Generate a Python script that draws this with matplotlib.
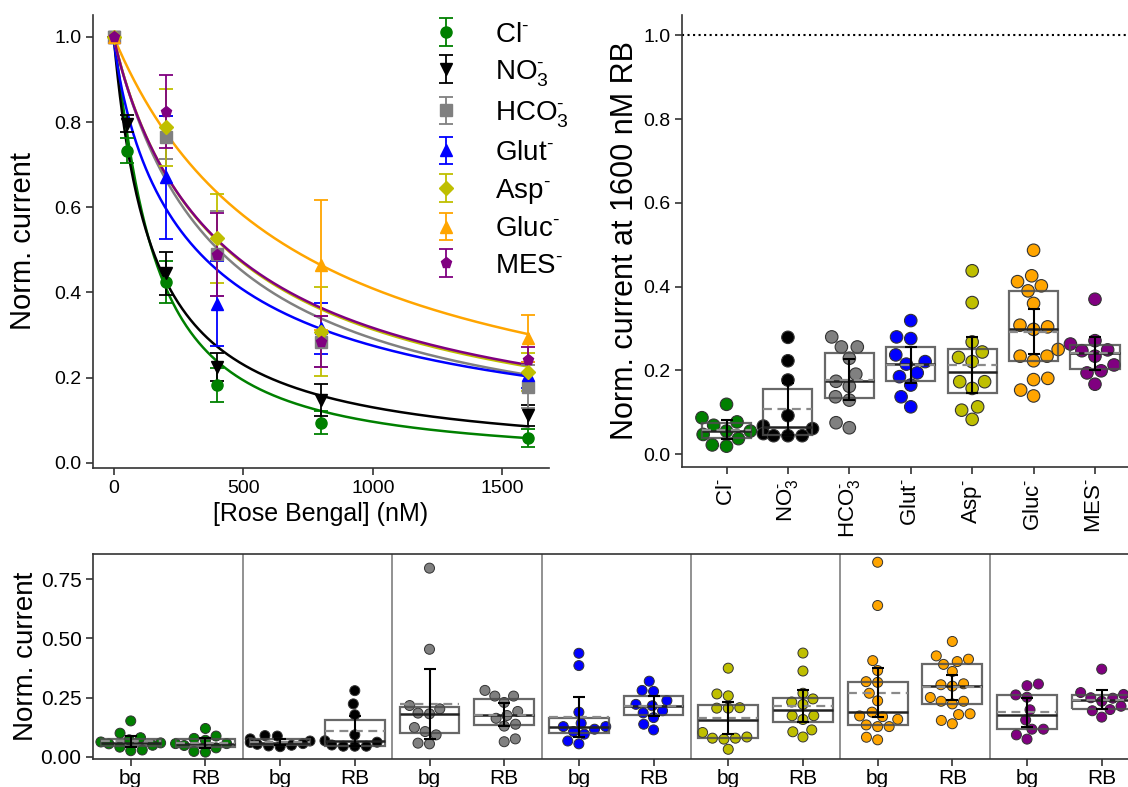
import numpy as np
import pandas as pd
import matplotlib
matplotlib.use('Agg')
import matplotlib.pyplot as plt
import seaborn as sns

plt.rcParams['font.family'] = ['Liberation Sans', 'DejaVu Sans']
plt.rcParams['mathtext.fontset'] = 'custom'
plt.rcParams['mathtext.rm'] = 'Liberation Sans'
plt.rcParams['mathtext.it'] = 'Liberation Sans:italic'
plt.rcParams['mathtext.bf'] = 'Liberation Sans:bold'

# ---------------- data ----------------
ions = ['Cl', 'NO3', 'HCO3', 'Glut', 'Asp', 'Gluc', 'MES']
ion_labels = [r'Cl$^{\text{-}}$', r'NO$_3^{\text{-}}$', r'HCO$_3^{\text{-}}$', r'Glut$^{\text{-}}$',
              r'Asp$^{\text{-}}$', r'Gluc$^{\text{-}}$', r'MES$^{\text{-}}$']
colors = ['green', 'black', 'grey', 'blue', '#bfbf00', 'orange', 'purple']
markers = ['o', 'v', 's', '^', 'D', '^', 'p']

# dose-response (mean +/- error)
conc_cl = [0, 50, 200, 400, 800, 1600]
mean_cl = [1.0, 0.733, 0.425, 0.183, 0.094, 0.058]
err_cl = [0, 0.03, 0.05, 0.039, 0.027, 0.021]
conc_no3 = [0, 50, 200, 400, 800, 1600]
mean_no3 = [1.0, 0.796, 0.445, 0.226, 0.148, 0.112]
err_no3 = [0, 0.02, 0.05, 0.033, 0.037, 0.025]
conc_hco3 = [0, 200, 400, 800, 1600]
mean_hco3 = [1.0, 0.764, 0.491, 0.284, 0.179]
err_hco3 = [0, 0.05, 0.1, 0.06, 0.05]
conc_glut = [0, 200, 400, 800, 1600]
mean_glut = [1.0, 0.67, 0.374, 0.316, 0.206]
err_glut = [0, 0.145, 0.1, 0.06, 0.03]
conc_asp = [0, 200, 400, 800, 1600]
mean_asp = [1.0, 0.788, 0.527, 0.308, 0.214]
err_asp = [0, 0.09, 0.105, 0.105, 0.045]
conc_gluc = [0, 800, 1600]
mean_gluc = [1.0, 0.464, 0.293]
err_gluc = [0, 0.152, 0.055]
conc_mes = [0, 200, 400, 800, 1600]
mean_mes = [1.0, 0.824, 0.489, 0.284, 0.241]
err_mes = [0, 0.086, 0.098, 0.06, 0.03]

# Hill fit parameters (IC50 in nM, Hill coefficient)
fit_ic50 = [148, 150, 405, 320, 438, 693, 442]
fit_hill = [1.17, 1.0, 0.98, 0.85, 0.95, 1.0, 0.94]

# normalised current at 1600 nM RB
rb_cl = [0.119, 0.087, 0.077, 0.069, 0.055, 0.055, 0.047, 0.037, 0.022, 0.019]
rb_no3 = [0.279, 0.223, 0.177, 0.092, 0.067, 0.061, 0.049, 0.044, 0.044, 0.044]
rb_hco3 = [0.28, 0.256, 0.256, 0.229, 0.191, 0.174, 0.162, 0.137, 0.129, 0.075, 0.063]
rb_glut = [0.319, 0.28, 0.276, 0.237, 0.221, 0.215, 0.194, 0.185, 0.165, 0.137, 0.113]
rb_asp = [0.438, 0.362, 0.268, 0.244, 0.231, 0.221, 0.173, 0.173, 0.157, 0.113, 0.105, 0.083]
rb_gluc = [0.487, 0.426, 0.412, 0.402, 0.39, 0.36, 0.308, 0.304, 0.298, 0.25, 0.234,
           0.234, 0.223, 0.181, 0.178, 0.153, 0.139]
rb_mes = [0.37, 0.271, 0.263, 0.249, 0.247, 0.234, 0.213, 0.199, 0.194, 0.167]

# background current
bg_cl = [0.151, 0.099, 0.080, 0.071, 0.062, 0.058, 0.054, 0.048, 0.040, 0.028, 0.025]
bg_no3 = [0.089, 0.087, 0.075, 0.066, 0.060, 0.055, 0.052, 0.048, 0.045, 0.042]
bg_hco3 = [0.797, 0.454, 0.216, 0.202, 0.184, 0.181, 0.123, 0.106, 0.092, 0.057, 0.054]
bg_glut = [0.437, 0.385, 0.188, 0.141, 0.127, 0.127, 0.116, 0.106, 0.095, 0.066, 0.054]
bg_asp = [0.374, 0.265, 0.257, 0.207, 0.205, 0.205, 0.102, 0.083, 0.078, 0.078, 0.074, 0.031]
bg_gluc = [0.822, 0.639, 0.406, 0.364, 0.317, 0.314, 0.268, 0.236, 0.188, 0.172, 0.169,
           0.158, 0.134, 0.127, 0.127, 0.082, 0.071]
bg_mes = [0.307, 0.300, 0.261, 0.251, 0.198, 0.155, 0.116, 0.116, 0.092, 0.074]

cond_labels = ['bg', 'RB']

concs = [conc_cl, conc_no3, conc_hco3, conc_glut, conc_asp, conc_gluc, conc_mes]
means = [mean_cl, mean_no3, mean_hco3, mean_glut, mean_asp, mean_gluc, mean_mes]
errs = [err_cl, err_no3, err_hco3, err_glut, err_asp, err_gluc, err_mes]
rb_vals = [rb_cl, rb_no3, rb_hco3, rb_glut, rb_asp, rb_gluc, rb_mes]
bg_vals = [bg_cl, bg_no3, bg_hco3, bg_glut, bg_asp, bg_gluc, bg_mes]

T975 = {8: 2.306, 9: 2.262, 10: 2.228, 11: 2.201, 12: 2.179, 13: 2.160,
        14: 2.145, 15: 2.131, 16: 2.120, 17: 2.110, 18: 2.101}


def ci95(d):
    d = np.asarray(d, float)
    n = len(d)
    return d.mean(), T975.get(n - 1, 2.0) * d.std(ddof=1) / np.sqrt(n)


SPINE = '#333333'


def style_axis(ax, labelsize=14):
    for s in ax.spines.values():
        s.set_color(SPINE)
        s.set_linewidth(1.2)
    ax.tick_params(labelsize=labelsize, length=5, width=1.2, color=SPINE, direction='out')


def draw_boxes(ax, data, positions):
    ax.boxplot(data, positions=positions, widths=0.8, whis=0, showfliers=False,
               showcaps=False, showmeans=True, meanline=True, patch_artist=True,
               manage_ticks=False, zorder=3,
               boxprops=dict(facecolor='none', edgecolor=(0.3, 0.3, 0.3, 0.85), linewidth=1.6),
               whiskerprops=dict(linewidth=0),
               medianprops=dict(color='#222222', linewidth=1.8),
               meanprops=dict(color='#8a8a8a', linestyle='--', linewidth=1.6, dashes=(4, 2.5)))
    for pos, d in zip(positions, data):
        m, h = ci95(d)
        ax.errorbar(pos, m, yerr=h, color='black', capsize=4.5, elinewidth=1.5,
                    capthick=1.5, zorder=4)


fig = plt.figure(figsize=(11.28, 7.87), dpi=100)

# ---------------- top-left: dose response ----------------
ax1 = fig.add_axes([0.0824, 0.4053, 0.4043, 0.576])
xs = np.linspace(0, 1600, 400)
handles = []
for i in range(len(ions)):
    ic, nh = fit_ic50[i], fit_hill[i]
    ax1.plot(xs, 1.0 / (1.0 + (xs / ic) ** nh), color=colors[i], lw=1.8, zorder=2)
for i in range(len(ions)):
    ms = 7 if markers[i] == 'D' else 8
    h = ax1.errorbar(concs[i], means[i], yerr=errs[i], color=colors[i], marker=markers[i],
                     ms=ms, linestyle='none', capsize=5, elinewidth=1.3, capthick=1.3,
                     zorder=3)
    handles.append(h)
ax1.set_xlim(-80, 1680)
ax1.set_ylim(-0.012, 1.052)
ax1.set_xticks([0, 500, 1000, 1500])
ax1.set_yticks([0.0, 0.2, 0.4, 0.6, 0.8, 1.0])
ax1.set_yticklabels(['0.0', '0.2', '0.4', '0.6', '0.8', '1.0'])
ax1.spines['top'].set_visible(False)
ax1.spines['right'].set_visible(False)
style_axis(ax1)
ax1.set_xlabel('[Rose Bengal] (nM)', fontsize=18, labelpad=4)
ax1.set_ylabel('Norm. current', fontsize=21, labelpad=12)
leg = ax1.legend(handles, ion_labels, loc='upper left', bbox_to_anchor=(0.743, 0.985),
                 frameon=False, fontsize=20, handlelength=1.0, handletextpad=1.26,
                 labelspacing=0.38, borderpad=0, borderaxespad=0)

# ---------------- top-right: RB swarm ----------------
ax2 = fig.add_axes([0.6046, 0.407, 0.4056, 0.5745])
df_rb = pd.DataFrame({'ion': np.repeat(ions, [len(v) for v in rb_vals]),
                      'val': np.concatenate(rb_vals)})
sns.swarmplot(data=df_rb, x='ion', y='val', hue='ion', order=ions, hue_order=ions,
              palette=colors, size=9, edgecolor='#333333', linewidth=0.8, ax=ax2,
              legend=False, zorder=2)
draw_boxes(ax2, rb_vals, list(range(len(ions))))
ax2.axhline(1.0, color='black', linestyle=':', lw=1.5, zorder=1)
ax2.set_xlim(-0.725, 6.725)
ax2.set_ylim(-0.03, 1.05)
ax2.set_yticks([0.0, 0.2, 0.4, 0.6, 0.8, 1.0])
ax2.set_yticklabels(['0.0', '0.2', '0.4', '0.6', '0.8', '1.0'])
ax2.set_xticks(range(len(ions)))
ax2.set_xticklabels(ion_labels, rotation=90, fontsize=16)
ax2.spines['top'].set_visible(False)
ax2.spines['right'].set_visible(False)
style_axis(ax2)
ax2.tick_params(axis='x', labelsize=16)
ax2.set_xlabel('')
ax2.set_ylabel('Norm. current at 1600 nM RB', fontsize=22, labelpad=2)

# ---------------- bottom: bg vs RB ----------------
ax3 = fig.add_axes([0.0828, 0.0356, 0.927, 0.2605])
cats = []
vals = []
for ion, b, r in zip(ions, bg_vals, rb_vals):
    cats += [ion + ' ' + cond_labels[0], ion + ' ' + cond_labels[1]]
    vals += [b, r]
pal = [c for c in colors for _ in range(2)]
df_b = pd.DataFrame({'cat': np.repeat(cats, [len(v) for v in vals]),
                     'val': np.concatenate(vals)})
sns.swarmplot(data=df_b, x='cat', y='val', hue='cat', order=cats, hue_order=cats,
              palette=pal, size=7.2, edgecolor='#333333', linewidth=0.7, ax=ax3,
              legend=False, zorder=2)
draw_boxes(ax3, vals, list(range(len(cats))))
for k in range(1, len(ions)):
    ax3.axvline(2 * k - 0.5, color='#7f7f7f', lw=1.2, zorder=1)
ax3.set_xlim(-0.5, len(cats) - 0.5)
ax3.set_ylim(-0.01, 0.857)
ax3.set_yticks([0.0, 0.25, 0.5, 0.75])
ax3.set_yticklabels(['0.00', '0.25', '0.50', '0.75'])
ax3.set_xticks(range(len(cats)))
ax3.set_xticklabels(cond_labels * len(ions))
style_axis(ax3, labelsize=15)
ax3.tick_params(axis='x', pad=2)
ax3.set_xlabel('')
ax3.set_ylabel('Norm. current', fontsize=20, labelpad=1)

fig.savefig('out.png', dpi=100)
